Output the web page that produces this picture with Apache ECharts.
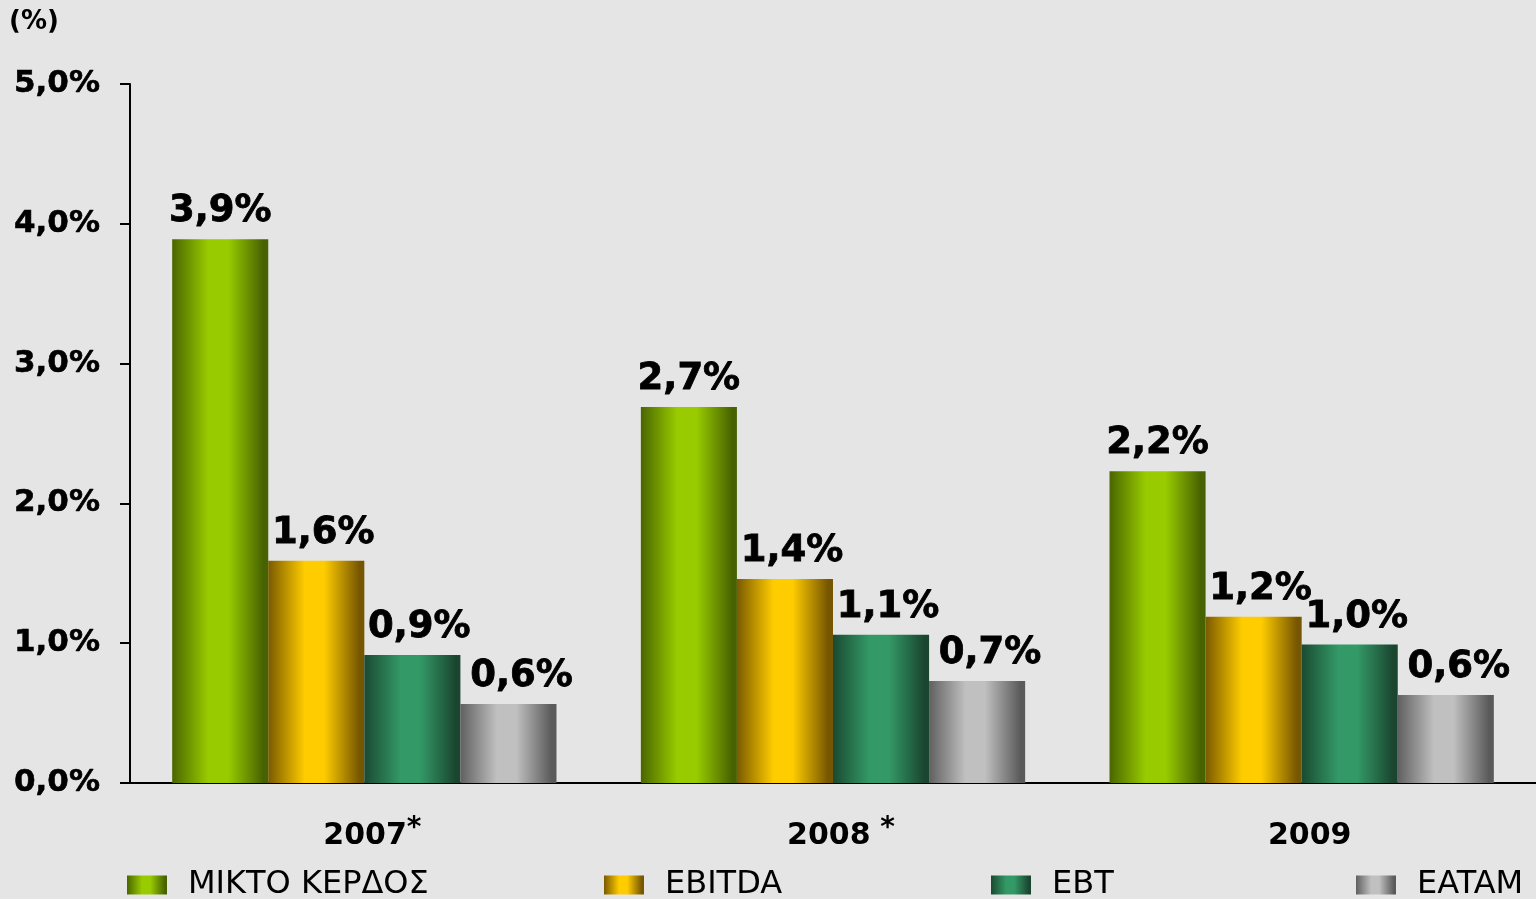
<!DOCTYPE html>
<html>
<head>
<meta charset="utf-8">
<script src="https://cdn.jsdelivr.net/npm/echarts@6/dist/echarts.min.js"></script>
<style>
html,body{margin:0;padding:0;background:#e5e5e5;}
#c{width:1536px;height:899px;}
</style>
</head>
<body>
<div id="c"></div>
<script>
const categories = ['2007', '2008', '2009'];
const categoryMarks = ['*', ' *', ''];
const seriesNames = ['ΜΙΚΤΟ ΚΕΡΔΟΣ', 'EBITDA', 'EBT', 'EATAM'];
const grossProfit = [3.89, 2.69, 2.23];
const ebitda = [1.59, 1.46, 1.19];
const ebt = [0.915, 1.06, 0.99];
const eatam = [0.565, 0.73, 0.63];
const grossProfitLabels = ['3,9%', '2,7%', '2,2%'];
const ebitdaLabels = ['1,6%', '1,4%', '1,2%'];
const ebtLabels = ['0,9%', '1,1%', '1,0%'];
const eatamLabels = ['0,6%', '0,7%', '0,6%'];
const yTickLabels = ['0,0%', '1,0%', '2,0%', '3,0%', '4,0%', '5,0%'];
const unitLabel = '(%)';

const values = [grossProfit, ebitda, ebt, eatam];
const labels = [grossProfitLabels, ebitdaLabels, ebtLabels, eatamLabels];
const gradStops = [
  ['#4a6600', '#99cc00', '#99cc00', '#476200'],
  ['#7a5a00', '#ffcc00', '#ffcc00', '#765600'],
  ['#1a4a32', '#339966', '#339966', '#1a4630'],
  ['#606060', '#c0c0c0', '#c0c0c0', '#5a5a5a']
];
function grad(c) {
  return new echarts.graphic.LinearGradient(0, 0, 1, 0, [
    {offset: 0, color: c[0]},
    {offset: 0.38, color: c[1]},
    {offset: 0.58, color: c[2]},
    {offset: 0.95, color: c[3]},
    {offset: 1, color: c[3]}
  ]);
}
const legendLefts = [127, 604, 991, 1356];
const labelShift = [0, 7, 7, 13];
const FONT = 'DejaVu Sans';

const chart = echarts.init(document.getElementById('c'), null, {renderer: 'canvas'});
chart.setOption({
  backgroundColor: '#e5e5e5',
  animation: false,
  title: {
    text: unitLabel, left: 9, top: 9, padding: 0,
    textStyle: {fontFamily: FONT, fontWeight: 'bold', fontSize: 26, color: '#000'}
  },
  legend: seriesNames.map((n, i) => ({
    data: [n], left: legendLefts[i], top: 869, padding: 0,
    icon: 'rect',
    itemWidth: 40, itemHeight: 19, itemGap: 0,
    textStyle: {fontFamily: FONT, fontSize: 32, color: '#000', padding: [0, 0, 0, 16]},
    selectedMode: false
  })),
  grid: {left: 130, top: 84, width: 1410, height: 699},
  xAxis: {
    type: 'category', data: categories,
    axisLine: {lineStyle: {color: '#000', width: 2}},
    axisTick: {length: 10, lineStyle: {color: '#000', width: 2}},
    axisLabel: {
      margin: 32,
      formatter: (v, i) => '{y|' + v + '}{s|' + categoryMarks[i] + '}',
      rich: {
        y: {fontFamily: FONT, fontWeight: 'bold', fontSize: 30, color: '#000', lineHeight: 36, verticalAlign: 'bottom', padding: [0, 0, 0, 16]},
        s: {fontFamily: FONT, fontWeight: 'bold', fontSize: 28, color: '#000', lineHeight: 36, verticalAlign: 'top', padding: [0, 0, 16, 0]}
      }
    }
  },
  yAxis: {
    type: 'value', min: 0, max: 5, interval: 1,
    splitLine: {show: false},
    axisLine: {show: true, lineStyle: {color: '#000', width: 2}},
    axisTick: {show: true, length: 10, lineStyle: {color: '#000', width: 2}},
    axisLabel: {
      margin: 30,
      formatter: v => yTickLabels[Math.round(v)],
      fontFamily: FONT, fontWeight: 'bold', fontSize: 31, color: '#000',
      textBorderColor: '#000', textBorderWidth: 0.6
    }
  },
  series: seriesNames.map((n, i) => ({
    name: n, type: 'bar', data: values[i],
    barGap: '0%', barCategoryGap: '18%',
    itemStyle: {color: grad(gradStops[i])},
    label: {
      show: true, position: 'top', distance: 9, offset: [labelShift[i], 0],
      formatter: p => labels[i][p.dataIndex],
      fontFamily: FONT, fontWeight: 'bold', fontSize: 37, color: '#000',
      textBorderColor: '#000', textBorderWidth: 0.8
    }
  }))
});
</script>
</body>
</html>
